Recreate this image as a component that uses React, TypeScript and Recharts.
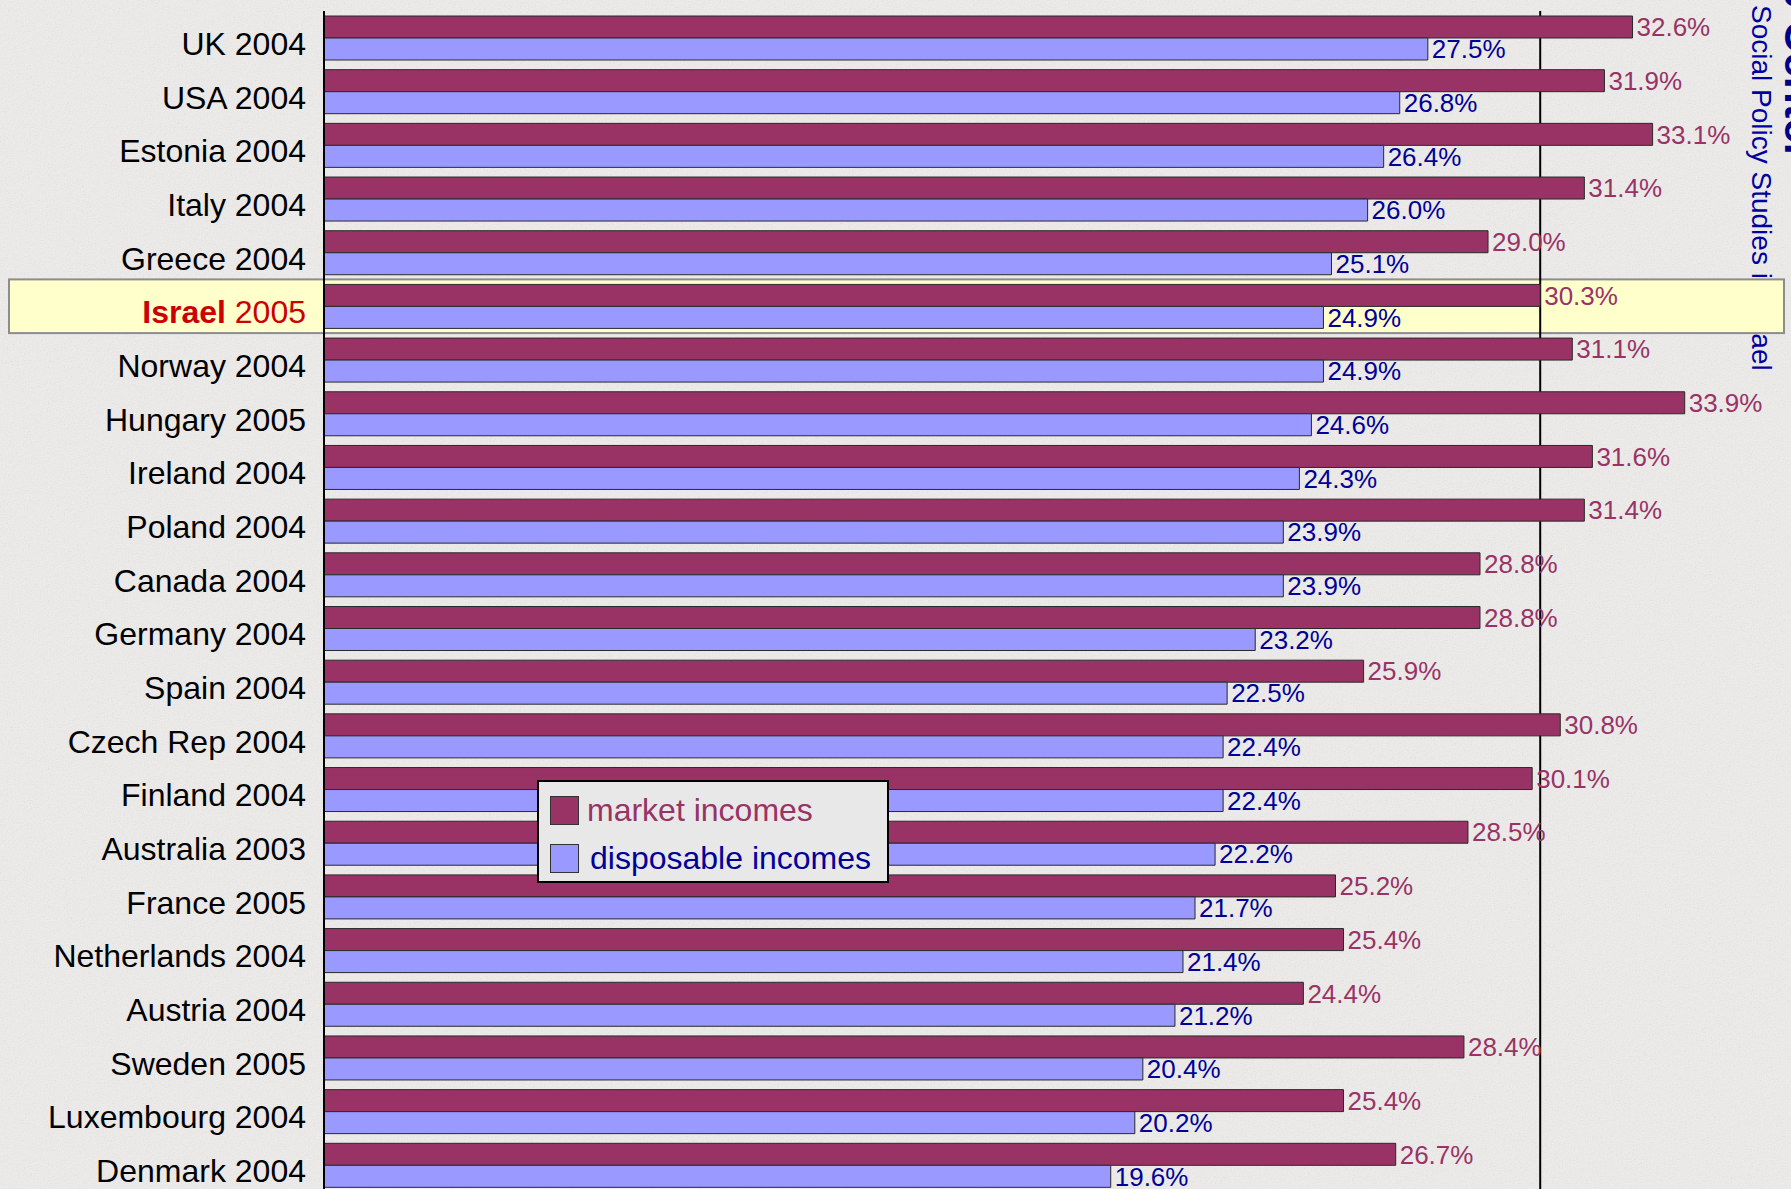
import React from 'react';
import {
  Bar,
  BarChart,
  LabelList,
  Legend,
  ReferenceArea,
  ReferenceLine,
  XAxis,
  YAxis,
} from 'recharts';

const countries = [
  'UK 2004', 'USA 2004', 'Estonia 2004', 'Italy 2004', 'Greece 2004', 'Israel 2005',
  'Norway 2004', 'Hungary 2005', 'Ireland 2004', 'Poland 2004', 'Canada 2004',
  'Germany 2004', 'Spain 2004', 'Czech Rep 2004', 'Finland 2004', 'Australia 2003',
  'France 2005', 'Netherlands 2004', 'Austria 2004', 'Sweden 2005', 'Luxembourg 2004',
  'Denmark 2004',
];
const marketIncomes = [
  32.6, 31.9, 33.1, 31.4, 29.0, 30.3, 31.1, 33.9, 31.6, 31.4, 28.8,
  28.8, 25.9, 30.8, 30.1, 28.5, 25.2, 25.4, 24.4, 28.4, 25.4, 26.7,
];
const disposableIncomes = [
  27.5, 26.8, 26.4, 26.0, 25.1, 24.9, 24.9, 24.6, 24.3, 23.9, 23.9,
  23.2, 22.5, 22.4, 22.4, 22.2, 21.7, 21.4, 21.2, 20.4, 20.2, 19.6,
];
const highlight = 'Israel 2005';
const highlightValue = 30.3;

const data = countries.map((name, i) => ({
  name,
  market: marketIncomes[i],
  disposable: disposableIncomes[i],
}));

const MARKET = '#993366';
const DISPOSABLE = '#9999ff';
const seriesOrder = ['market', 'disposable'];
const textColors: Record<string, string> = { market: '#993366', disposable: '#000099' };

function CountryTick({ x, y, payload }: any) {
  if (payload.value === highlight) {
    const [country, year] = payload.value.split(' ');
    return (
      <text x={x} y={y + 17} textAnchor="end" fontSize={32} fill="#cc0000">
        <tspan fontWeight="bold">{country}</tspan> {year}
      </text>
    );
  }
  return (
    <text x={x} y={y + 17} textAnchor="end" fontSize={32} fill="#000">
      {payload.value}
    </text>
  );
}

function HighlightBox(props: any) {
  const { x, y, width, height } = props;
  return (
    <rect
      x={x - 315}
      y={y}
      width={width + 330}
      height={height}
      fill="#ffffcc"
      stroke="#8c8c8c"
      strokeWidth={2}
    />
  );
}

function LegendBox({ payload }: any) {
  const items = [...(payload || [])].sort(
    (a: any, b: any) => seriesOrder.indexOf(a.dataKey) - seriesOrder.indexOf(b.dataKey),
  );
  return (
    <div
      style={{
        width: 348,
        height: 99,
        background: '#e8e8e8',
        border: '2px solid #000',
        boxSizing: 'content-box',
      }}
    >
      {items.map((p: any, i: number) => (
        <div
          key={p.value}
          style={{ display: 'flex', alignItems: 'center', height: 48, marginTop: i === 0 ? 4 : 0 }}
        >
          <span
            style={{
              display: 'inline-block',
              width: 27,
              height: 27,
              marginLeft: 11,
              background: p.color,
              border: '1px solid #333',
            }}
          />
          <span
            style={{
              marginLeft: i === 0 ? 8 : 11,
              fontSize: 32,
              color: textColors[p.dataKey],
              lineHeight: '32px',
            }}
          >
            {p.value}
          </span>
        </div>
      ))}
    </div>
  );
}

export default function App() {
  return (
    <div
      style={{
        position: 'fixed',
        left: 0,
        top: 0,
        width: 1791,
        height: 1189,
        overflow: 'hidden',
        fontFamily: '"Liberation Sans", Arial, sans-serif',
        background: '#eeedeb',
      }}
    >
      <svg width={1791} height={1189} style={{ position: 'absolute', left: 0, top: 0 }}>
        <defs>
          <filter id="grain" x="0" y="0" width="100%" height="100%">
            <feTurbulence type="fractalNoise" baseFrequency="0.7" numOctaves={2} seed={7} stitchTiles="stitch" />
            <feColorMatrix type="saturate" values="0" />
          </filter>
        </defs>
        <rect width="100%" height="100%" filter="url(#grain)" opacity={0.16} />
        <text transform="translate(1752, 5) rotate(90)" fontSize={28} fill="#0000a0" fontFamily='"Liberation Sans", Arial, sans-serif'>
          Social Policy Studies in Israel
        </text>
        <text
          transform="translate(1785, 160) rotate(90)"
          textAnchor="end"
          fontSize={44}
          fontWeight="bold"
          fill="#00008b"
          fontFamily='"Liberation Sans", Arial, sans-serif'
        >
          Taub Center
        </text>
      </svg>
      <div style={{ position: 'absolute', left: 0, top: 0 }}>
        <BarChart
          width={1791}
          height={1192}
          data={data}
          layout="vertical"
          margin={{ top: 11, right: 22, bottom: 0, left: 0 }}
          barCategoryGap={5}
          barGap={0}
        >
          <ReferenceArea y1={highlight} y2={highlight} shape={HighlightBox} ifOverflow="visible" zIndex={-80} />
          <ReferenceLine x={highlightValue} stroke="#000" strokeWidth={2} zIndex={-60} />
          <XAxis type="number" domain={[0, 36]} hide />
          <YAxis
            type="category"
            dataKey="name"
            width={324}
            tick={CountryTick}
            tickLine={false}
            tickSize={0}
            tickMargin={18}
            axisLine={{ stroke: '#000', strokeWidth: 2 }}
            interval={0}
          />
          <Legend
            layout="vertical"
            align="center"
            verticalAlign="middle"
            content={LegendBox}
            wrapperStyle={{ left: 537, top: 780, width: 352, height: 103 }}
          />
          <Bar dataKey="market" name="market incomes" fill={MARKET} stroke="#2a2a2a" strokeWidth={1} isAnimationActive={false}>
            <LabelList
              dataKey="market"
              position="right"
              offset={4}
              fill="#993366"
              fontSize={26}
              formatter={(v: any) => `${Number(v).toFixed(1)}%`}
            />
          </Bar>
          <Bar dataKey="disposable" name="disposable incomes" fill={DISPOSABLE} stroke="#2a2a2a" strokeWidth={1} isAnimationActive={false}>
            <LabelList
              dataKey="disposable"
              position="right"
              offset={4}
              fill="#000099"
              fontSize={26}
              formatter={(v: any) => `${Number(v).toFixed(1)}%`}
            />
          </Bar>
        </BarChart>
      </div>
    </div>
  );
}
